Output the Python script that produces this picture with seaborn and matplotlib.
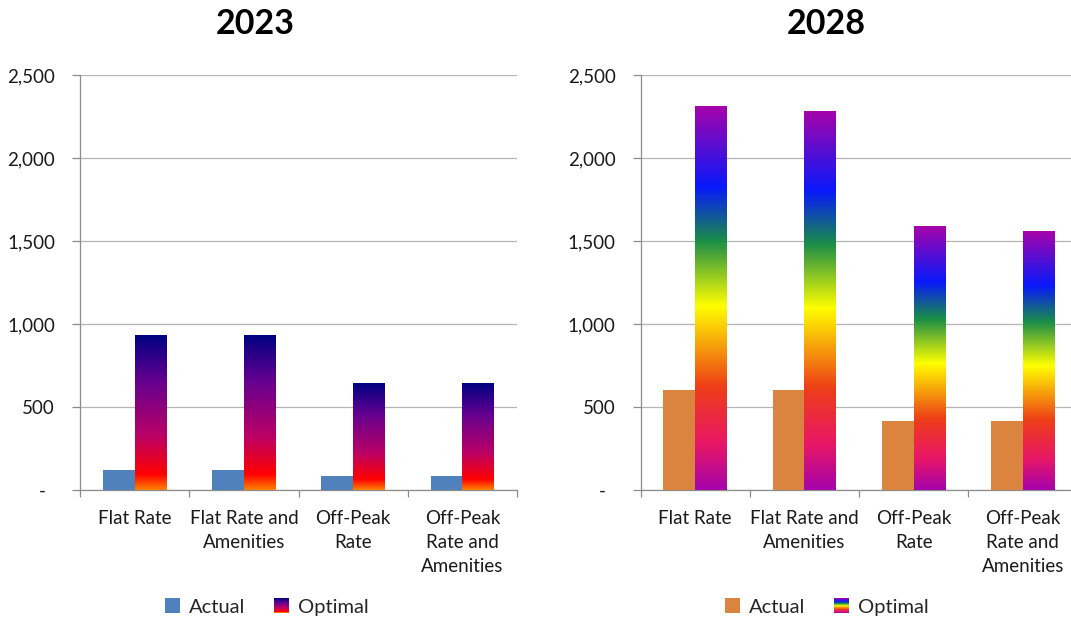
import numpy as np
import pandas as pd
import matplotlib
matplotlib.use("Agg")
import matplotlib.pyplot as plt
import seaborn as sns
from matplotlib.colors import LinearSegmentedColormap
from matplotlib.patches import Rectangle
from matplotlib.legend_handler import HandlerBase
from matplotlib.ticker import FixedLocator, FuncFormatter

# ---------------- data ----------------
categories = ["Flat Rate", "Flat Rate and\nAmenities", "Off-Peak\nRate", "Off-Peak\nRate and\nAmenities"]
series = ["Actual", "Optimal"]
actual_2023 = [120, 120, 84, 84]
optimal_2023 = [932, 932, 643, 643]
actual_2028 = [602, 602, 416, 416]
optimal_2028 = [2313, 2283, 1590, 1560]
years = ["2023", "2028"]
y_ticks = [0, 500, 1000, 1500, 2000, 2500]

# ---------------- style ----------------
sns.set_theme(style="white")
plt.rcParams["font.family"] = ["Lato", "DejaVu Sans"]

FONT = 13.5
GRID = "#B4B4B4"
AXIS = "#8C8C8C"
actual_colors = {"2023": "#4F81BD", "2028": "#DB843F"}

sunset = LinearSegmentedColormap.from_list(
    "sunset", [(0.0, "#FF8200"), (0.10, "#FF0000"), (0.35, "#BA0066"),
               (0.70, "#66008F"), (1.0, "#000082")])
rainbow = LinearSegmentedColormap.from_list(
    "rainbow_xl", [(0.0, "#A603AB"), (0.12, "#E81766"), (0.27, "#EE3F17"),
                   (0.48, "#FFFF00"), (0.65, "#1A8D48"), (0.79, "#0819FB"),
                   (1.0, "#A603AB")])
grad_cmaps = {"2023": sunset, "2028": rainbow}


class GradientHandle:
    def __init__(self, cmap):
        self.cmap = cmap


class HandlerGradient(HandlerBase):
    def create_artists(self, legend, orig_handle, xdescent, ydescent,
                       width, height, fontsize, trans):
        n = 24
        arts = []
        for i in range(n):
            c = orig_handle.cmap(1 - (i + 0.5) / n)
            r = Rectangle((-xdescent, -ydescent + height * (n - 1 - i) / n),
                          width, height / n * 1.05, facecolor=c,
                          edgecolor="none", transform=trans)
            arts.append(r)
        return arts


fig = plt.figure(figsize=(10.71, 6.19), dpi=100)
fig.patch.set_facecolor("white")

axes_pos = {
    "2023": [80 / 1071, 1 - 490 / 619, 437 / 1071, 415 / 619],
    "2028": [640.5 / 1071, 1 - 490 / 619, 437 / 1071, 415 / 619],
}
title_x = {"2023": 255.5 / 1071, "2028": 826 / 1071}
legend_x = {"2023": 267 / 1071, "2028": 827 / 1071}

data = {"2023": (actual_2023, optimal_2023), "2028": (actual_2028, optimal_2028)}

for yr in years:
    act, opt = data[yr]
    df = pd.DataFrame({
        "category": categories * 2,
        "series": ["Actual"] * len(categories) + ["Optimal"] * len(categories),
        "value": list(act) + list(opt),
    })
    ax = fig.add_axes(axes_pos[yr])
    sns.barplot(data=df, x="category", y="value", hue="series",
                order=categories, hue_order=series,
                palette={"Actual": actual_colors[yr], "Optimal": "#ffffff"},
                width=0.58, dodge=True, linewidth=0, saturation=1,
                legend=False, ax=ax, zorder=3)

    cmap = grad_cmaps[yr]
    grad = cmap(np.linspace(0, 1, 256))[:, None, :]
    for p in ax.containers[1]:
        x0, w, h = p.get_x(), p.get_width(), p.get_height()
        p.set_facecolor("none")
        ax.imshow(grad, extent=[x0, x0 + w, 0, h], origin="lower",
                  aspect="auto", zorder=3, interpolation="bilinear")

    ax.set_xlim(-0.5, len(categories) - 0.5)
    ax.set_ylim(0, 2500)
    ax.set_xlabel("")
    ax.set_ylabel("")

    # y axis
    ax.yaxis.set_major_locator(FixedLocator(y_ticks))
    ax.yaxis.set_major_formatter(FuncFormatter(
        lambda v, pos: "-  " if v == 0 else f"{int(v):,}"))
    ax.grid(axis="y", color=GRID, linewidth=0.9, zorder=0)
    ax.set_axisbelow(True)

    # x axis: ticks at category boundaries, labels in centers
    ax.set_xticks(np.arange(len(categories) + 1) - 0.5)
    ax.set_xticklabels([])
    ax.set_xticks(np.arange(len(categories)), minor=True)
    ax.set_xticklabels(categories, minor=True, fontsize=FONT, linespacing=1.5,
                       color="#1a1a1a")
    ax.tick_params(axis="x", which="major", direction="out", length=5,
                   width=0.9, color=AXIS, bottom=True)
    ax.tick_params(axis="x", which="minor", length=0, pad=14.5)
    ax.tick_params(axis="y", direction="out", length=6, width=0.9,
                   color=AXIS, left=True, pad=12, labelsize=FONT,
                   labelcolor="#1a1a1a")

    for s in ["top", "right"]:
        ax.spines[s].set_visible(False)
    for s in ["left", "bottom"]:
        ax.spines[s].set_color(AXIS)
        ax.spines[s].set_linewidth(0.9)

    fig.text(title_x[yr], 1 - 24.5 / 619, yr, ha="center", va="center",
             fontsize=24.5, fontweight="bold", color="black")

    handles = [Rectangle((0, 0), 1, 1, facecolor=actual_colors[yr], edgecolor="none"),
               GradientHandle(cmap)]
    fig.legend(handles, series, loc="center",
               bbox_to_anchor=(legend_x[yr], 1 - 607 / 619), ncol=2,
               frameon=False, fontsize=14.5, handlelength=0.75,
               handleheight=0.75, handletextpad=0.45, columnspacing=1.4,
               handler_map={GradientHandle: HandlerGradient()})

fig.savefig("out.png", dpi=100, facecolor="white")
